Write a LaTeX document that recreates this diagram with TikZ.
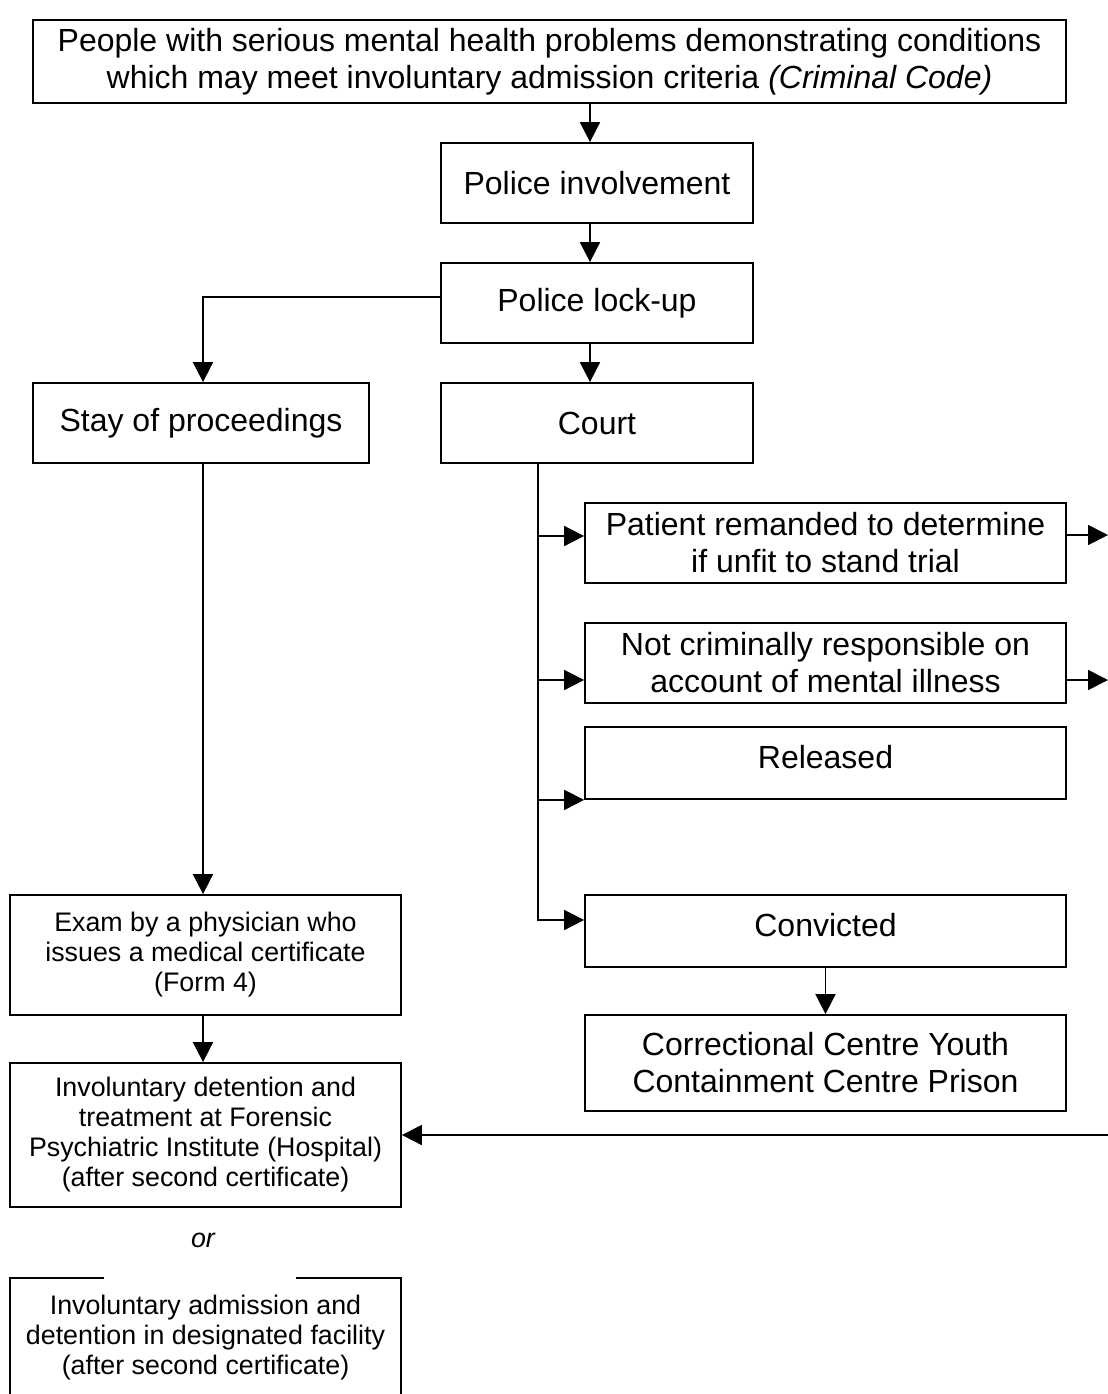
\documentclass[tikz,border=0pt]{standalone}
\usepackage{fontspec}
\setmainfont{Liberation Sans}
\usetikzlibrary{arrows.meta, shapes}
\tikzstyle{bigbox} = [rectangle, minimum width=156pt, minimum height=40pt, inner sep=0pt, text centered, align=center, draw=black, line width=0.9pt, font=\fontsize{16}{18.5}\selectfont]
\tikzstyle{smallbox} = [rectangle, minimum width=195.5pt, inner sep=0pt, text centered, align=center, draw=black, line width=0.9pt, font=\fontsize{13.4}{15}\selectfont]
\tikzstyle{arrow} = [line width=0.9pt, -{Triangle[length=10pt, width=10pt]}]

\begin{document}
\begin{tikzpicture}[x=0.5pt, y=-0.5pt]
\useasboundingbox (0,0) rectangle (1108,1394);

\node at (549.5, 61.5) (top) [bigbox, minimum width=516.5pt, minimum height=41.5pt] {People with serious mental health problems demonstrating conditions\\ which may meet involuntary admission criteria \textit{(Criminal Code)}};
\node at (597, 183) (inv) [bigbox] {Police involvement};
\node at (597, 303) (lockup) [bigbox] {Police lock-up};
\node at (201, 423) (stay) [bigbox, minimum width=168pt] {Stay of proceedings};
\node at (597, 423) (court) [bigbox] {Court};
\node at (825.5, 543) (remand) [bigbox, minimum width=240.5pt] {Patient remanded to determine\\ if unfit to stand trial};
\node at (825.5, 663) (ncr) [bigbox, minimum width=240.5pt] {Not criminally responsible on\\ account of mental illness};
\node at (825.5, 763) (rel) [bigbox, minimum width=240.5pt, minimum height=36pt, text depth=6pt] {Released};
\node at (825.5, 931) (conv) [bigbox, minimum width=240.5pt, minimum height=36pt, text depth=6pt] {Convicted};
\node at (825.5, 1063) (prison) [bigbox, minimum width=240.5pt, minimum height=48pt] {Correctional Centre Youth\\ Containment Centre Prison};
\node at (205.5, 955) (exam) [smallbox, minimum height=60pt] {Exam by a physician who\\ issues a medical certificate\\ (Form 4)};
\node at (205.5, 1135) (detain) [smallbox, minimum height=72pt] {Involuntary detention and\\ treatment at Forensic\\ Psychiatric Institute (Hospital)\\ (after second certificate)};
\node at (203, 1240) (or) [font=\fontsize{13.4}{15}\selectfont\itshape] {or};
\node at (205.5, 1338) (admit) [smallbox, minimum height=60pt] {Involuntary admission and\\ detention in designated facility\\ (after second certificate)};
\draw [white, line width=1.6pt] (admit.north west) ++(95,0) -- ++(192,0);

\coordinate (mainx) at (590, 0);
\coordinate (branchx) at (538, 0);
\coordinate (outa) at (1108, 535);
\coordinate (outb) at (1108, 680);
\coordinate (back) at (1108, 1135);

\draw [arrow] (top.south -| mainx) -- (inv.north -| mainx);
\draw [arrow] (inv.south -| mainx) -- (lockup.north -| mainx);
\draw [arrow] (lockup.south -| mainx) -- (court.north -| mainx);
\draw [arrow] ([yshift=3pt]lockup.west) -| ([xshift=1pt]stay.north);
\draw [arrow] ([xshift=1pt]stay.south) -- ([xshift=1pt]stay.south |- exam.north);
\draw [arrow] ([xshift=1pt]stay.south |- exam.south) -- ([xshift=1pt]stay.south |- detain.north);

\draw [arrow] (court.south -| branchx) |- ([yshift=5.5pt]conv.west);
\draw [arrow] ([yshift=3.5pt]remand.west -| branchx) -- ([yshift=3.5pt]remand.west);
\draw [arrow] ([yshift=-8.5pt]ncr.west -| branchx) -- ([yshift=-8.5pt]ncr.west);
\draw [arrow] (rel.south west -| branchx) -- (rel.south west);
\draw [arrow] (conv.south) -- (prison.north);

\draw [arrow] (remand.east |- outa) -- (outa);
\draw [arrow] (ncr.east |- outb) -- (outb);
\draw [arrow] (back) -- (detain.east);

\end{tikzpicture}
\end{document}
